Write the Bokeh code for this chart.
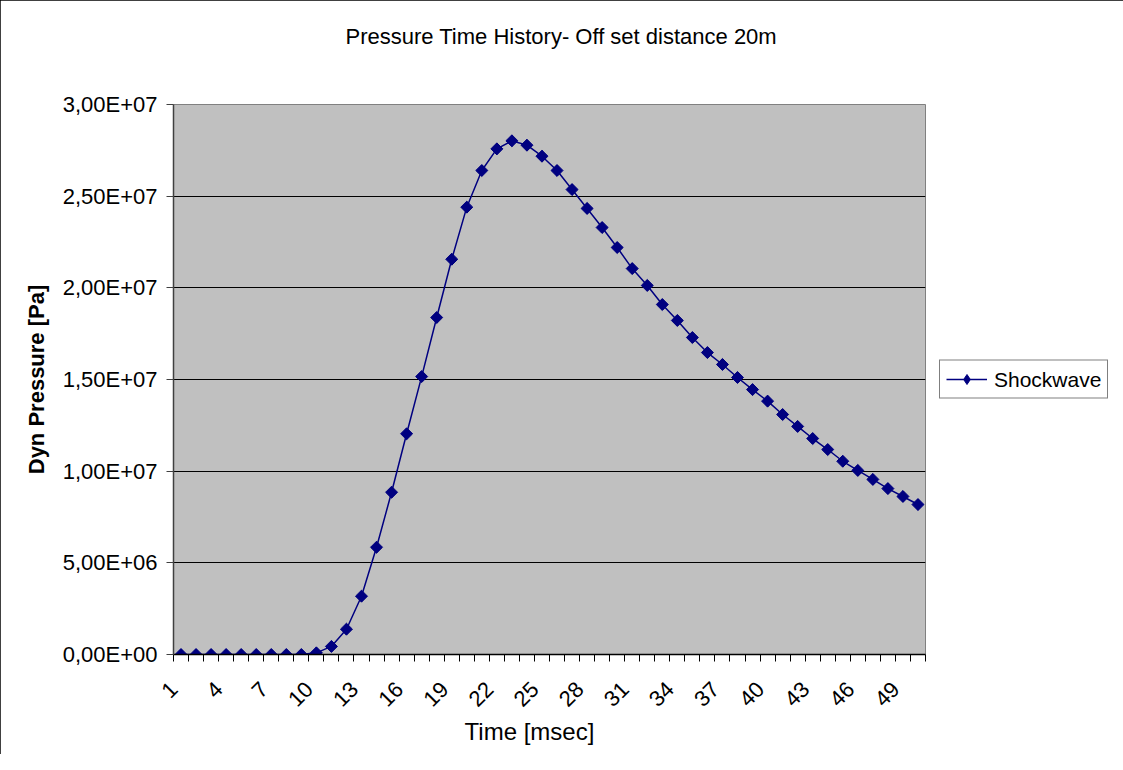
import math
from bokeh.plotting import figure
from bokeh.models import Range1d, FixedTicker, Legend, LegendItem, Title
from bokeh.embed import file_html
from bokeh.resources import INLINE

time_ms = list(range(1, 51))
pressure = [
    0, 0, 0, 0, 0, 0, 0, 0, 0, 0.09e6,
    0.44e6, 1.38e6, 3.18e6, 5.85e6, 8.85e6, 12.04e6, 15.16e6, 18.38e6, 21.56e6, 24.4e6,
    26.4e6, 27.58e6, 28.02e6, 27.78e6, 27.18e6, 26.4e6, 25.36e6, 24.33e6, 23.29e6, 22.2e6,
    21.05e6, 20.13e6, 19.09e6, 18.22e6, 17.29e6, 16.47e6, 15.82e6, 15.11e6, 14.45e6, 13.82e6,
    13.09e6, 12.44e6, 11.78e6, 11.18e6, 10.54e6, 10.04e6, 9.55e6, 9.05e6, 8.62e6, 8.18e6,
]
y_tick_values = [0, 5e6, 1e7, 1.5e7, 2e7, 2.5e7, 3e7]
y_tick_labels = ["0,00E+00", "5,00E+06", "1,00E+07", "1,50E+07", "2,00E+07", "2,50E+07", "3,00E+07"]
x_tick_values = list(range(1, 51, 3))
x_tick_labels = [str(v) for v in x_tick_values]
series_name = "Shockwave"
title_text = "Pressure Time History- Off set distance 20m"
x_title = "Time [msec]"
y_title = "Dyn Pressure [Pa]"

FONT = "Liberation Sans"
NAVY = "#000080"
LABEL_SHIFT = 0.48  # rotated labels sit slightly left of their category centre

x_boundaries = [t - 0.5 for t in time_ms] + [time_ms[-1] + 0.5]
label_pos = [v - LABEL_SHIFT for v in x_tick_values]

p = figure(width=1107, height=754, output_backend="svg", toolbar_location=None,
           x_range=Range1d(0.5, 50.5), y_range=Range1d(0, 3e7),
           frame_width=752, frame_height=550,
           min_border_left=173, min_border_right=182, min_border_top=104, min_border_bottom=100)
p.styles = {"outline": "1px solid black", "outline-offset": "-1px"}
p.background_fill_color = "#C0C0C0"
p.border_fill_color = "white"
p.outline_line_color = "#808080"
p.outline_line_width = 1

# spacer between frame and title
p.add_layout(Title(text=" ", text_font_size="1px", standoff=48), "above")
p.title = Title(text=title_text, align="left", offset=172, standoff=10, text_font=FONT,
                text_font_size="22px", text_font_style="normal", text_color="black")

# grid
p.xgrid.visible = False
p.ygrid.ticker = FixedTicker(ticks=y_tick_values[1:-1])
p.ygrid.grid_line_color = "black"
p.ygrid.grid_line_width = 1

# y axis
ya = p.yaxis[0]
ya.ticker = FixedTicker(ticks=y_tick_values)
ya.major_label_overrides = {v: l for v, l in zip(y_tick_values, y_tick_labels)}
ya.major_label_text_font = FONT
ya.major_label_text_font_size = "22px"
ya.major_label_text_color = "black"
ya.major_tick_out = 7
ya.major_tick_in = 0
ya.minor_tick_out = 0
ya.minor_tick_in = 0
ya.major_label_standoff = 9
ya.axis_line_color = "#404040"
ya.axis_line_width = 1.5
ya.major_tick_line_color = "#404040"
ya.axis_label = y_title
ya.axis_label_text_font = FONT
ya.axis_label_text_font_size = "22px"
ya.axis_label_text_font_style = "bold"
ya.axis_label_text_color = "black"
ya.axis_label_standoff = 11

# x axis
xa = p.xaxis[0]
xa.ticker = FixedTicker(ticks=label_pos, minor_ticks=x_boundaries)
xa.major_label_overrides = {v: l for v, l in zip(label_pos, x_tick_labels)}
xa.major_label_orientation = math.pi / 4
xa.major_label_text_font = FONT
xa.major_label_text_font_size = "22px"
xa.major_label_text_color = "black"
xa.major_tick_out = 0
xa.major_tick_in = 0
xa.minor_tick_out = 7
xa.minor_tick_in = 0
xa.minor_tick_line_color = "black"
xa.axis_line_color = "black"
xa.axis_line_width = 1.5
xa.major_label_standoff = 24
xa.axis_label = x_title + "\u00a0" * 6
xa.axis_label_text_font = FONT
xa.axis_label_text_font_size = "24px"
xa.axis_label_text_font_style = "normal"
xa.axis_label_text_color = "black"
xa.axis_label_standoff = 2

ln = p.line(time_ms, pressure, line_color=NAVY, line_width=1.5)
# diamond used as legend swatch; fully covered by the plotted markers
swatch = p.scatter(time_ms, pressure, marker="diamond", size=11, fill_color=NAVY, line_color=NAVY)
sc = p.scatter(time_ms, pressure, marker="square", angle=math.pi / 4, size=8.5,
               fill_color=NAVY, line_color=NAVY)

legend = Legend(items=[LegendItem(label=series_name, renderers=[ln, swatch])],
                location="center_left", label_text_font=FONT, label_text_font_size="21px",
                label_text_color="black", border_line_color="black", border_line_width=1,
                background_fill_color="white", background_fill_alpha=1,
                glyph_width=41, glyph_height=25, padding=6, spacing=0, margin=14,
                label_standoff=7, label_height=25)
p.add_layout(legend, "right")

open("out.html", "w").write(file_html(p, INLINE))
